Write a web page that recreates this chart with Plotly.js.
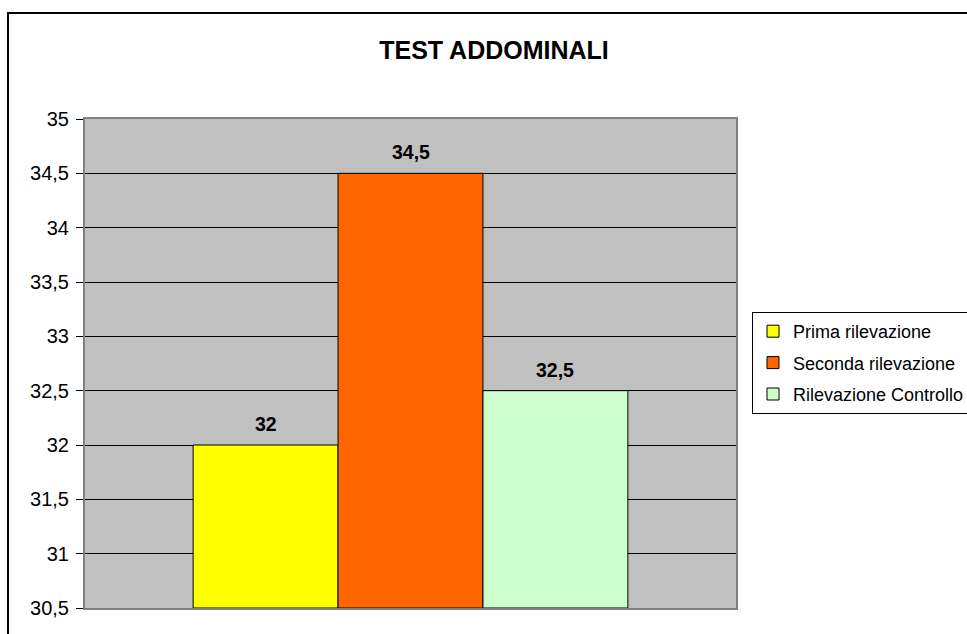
<!DOCTYPE html>
<html>
<head>
<meta charset="utf-8">
<script src="https://cdn.plot.ly/plotly-3.0.1.min.js"></script>
<style>html,body{margin:0;padding:0;background:#fff;}#chart{width:967px;height:634px;}</style>
</head>
<body>
<div id="chart"></div>
<script>
const seriesNames = ["Prima rilevazione", "Seconda rilevazione", "Rilevazione Controllo"];
const seriesValues = [32, 34.5, 32.5];
const seriesColors = ["#FFFF00", "#FF6600", "#CCFFCC"];
const valueLabels = ["32", "34,5", "32,5"];
const yTickVals = [30.5, 31, 31.5, 32, 32.5, 33, 33.5, 34, 34.5, 35];

const FONT = "Liberation Sans, Arial, sans-serif";
const W = 967, H = 634;
const margin = {l: 85, r: 231, t: 119, b: 26, autoexpand: false};
const pw = W - margin.l - margin.r, ph = H - margin.t - margin.b;
const px2x = p => (p - margin.l) / pw;
const px2y = p => (H - margin.b - p) / ph;

const traces = seriesNames.map((name, i) => ({
  type: "bar",
  name: name,
  legendgroup: "g" + i,
  x: [i],
  y: [seriesValues[i] - 30.5],
  base: 30.5,
  width: 1,
  marker: {color: seriesColors[i], line: {color: "#000000", width: 1}},
  hoverinfo: "skip",
  cliponaxis: false
}));

const annotations = seriesValues.map((v, i) => ({
  x: i, y: v, xref: "x", yref: "y",
  text: "<b>" + valueLabels[i] + "</b>",
  showarrow: false, yanchor: "bottom", yshift: 8,
  font: {family: FONT, size: 19.5, color: "#000"}
}));

const layout = {
  width: W, height: H,
  margin: margin,
  paper_bgcolor: "#FFFFFF",
  plot_bgcolor: "#C0C0C0",
  separators: ",.",
  barmode: "overlay",
  showlegend: true,
  title: {
    text: "<b>TEST ADDOMINALI</b>",
    font: {family: FONT, size: 25, color: "#000"},
    xref: "paper", x: px2x(494), xanchor: "center",
    yref: "container", y: 1 - 50 / H, yanchor: "middle"
  },
  xaxis: {
    range: [-1.246, 3.246],
    showticklabels: false, ticks: "", showgrid: false, zeroline: false,
    showline: true, mirror: true, linecolor: "#808080", linewidth: 2,
    fixedrange: true
  },
  yaxis: {
    range: [30.5, 35],
    tickvals: yTickVals,
    ticks: "outside", ticklen: 7, tickcolor: "#000", tickwidth: 1,
    ticklabelstandoff: 3,
    showgrid: true, gridcolor: "#000000", gridwidth: 1,
    zeroline: false,
    showline: true, mirror: true, linecolor: "#808080", linewidth: 2,
    tickfont: {family: FONT, size: 20, color: "#000"},
    fixedrange: true
  },
  legend: {
    x: px2x(752), xanchor: "left", xref: "paper",
    y: px2y(312), yanchor: "top", yref: "paper",
    bordercolor: "#000", borderwidth: 1, bgcolor: "#FFFFFF",
    font: {family: FONT, size: 18, color: "#000"},
    traceorder: "grouped", itemwidth: 30, tracegroupgap: 5
  },
  annotations: annotations,
  shapes: [{
    type: "rect", xref: "paper", yref: "paper",
    x0: px2x(8), y0: px2y(700), x1: px2x(1100), y1: px2y(13),
    line: {color: "#000", width: 2}, fillcolor: "rgba(0,0,0,0)", layer: "below"
  }]
};

Plotly.newPlot("chart", traces, layout, {displayModeBar: false, staticPlot: true});
</script>
</body>
</html>
